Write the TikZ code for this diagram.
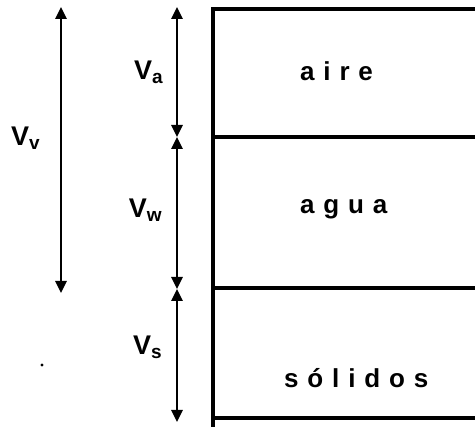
\documentclass[tikz,border=0pt]{standalone}
\usepackage{fontspec}
\setmainfont{Liberation Sans}
\newfontfamily\spacedfont[LetterSpace=34]{Liberation Sans}
\usetikzlibrary{arrows.meta}
\newcommand{\vol}[1]{V\raisebox{-4pt}{\fontsize{19}{19}\selectfont #1}}

\begin{document}
\begin{tikzpicture}[x=1pt,y=-1pt,
		dim/.style={line width=2.6pt,{Triangle[width=11pt,length=12pt]}-{Triangle[width=11pt,length=12pt]}},
		wall/.style={line width=3.2pt},
		phase/.style={anchor=west,inner sep=0pt,font=\spacedfont\bfseries\fontsize{26}{26}\selectfont},
		lbl/.style={inner sep=0pt,font=\bfseries\fontsize{27}{27}\selectfont}]
	\useasboundingbox (0,0) rectangle (475,430);
	% the sample
	\coordinate (tl) at (213,9);
	\coordinate (bl) at (213,427);
	\draw[wall] (475,9) -- (tl) -- (bl);
	\draw[wall] (213,137) -- (475,137);
	\draw[wall] (213,288) -- (475,288);
	\draw[wall] (213,418) -- (475,418);
	\node[phase] (aire) at (300,71) {aire};
	\node[phase] (agua) at (300,209) {agua};
	\node[phase] (solidos) at (284,378) {sólidos};
	% dimensions
	\coordinate (a1) at (177,7);
	\coordinate (a2) at (177,137);
	\coordinate (a3) at (177,289);
	\coordinate (a4) at (177,422);
	\coordinate (v1) at (61,7);
	\coordinate (v2) at (61,293);
	\path[dim]
	(a1) edge node[lbl,left=13pt]{\vol{a}} (a2)
	(a2) edge node[lbl,left=14pt,pos=0.48]{\vol{w}} (a3)
	(a3) edge node[lbl,left=14pt,pos=0.44]{\vol{s}} (a4)
	(v1) edge node[lbl,left=20pt,pos=0.46]{\vol{v}} (v2);
	\fill (42,365) circle (1.7pt);
\end{tikzpicture}
\end{document}
